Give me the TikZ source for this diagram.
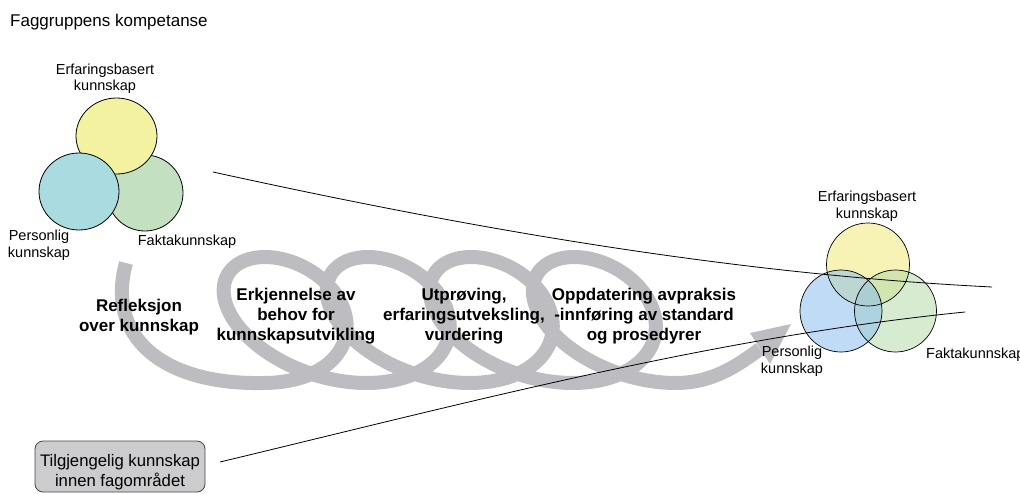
\documentclass[tikz,border=0pt]{standalone}
\usepackage{fontspec}
\setmainfont{Liberation Sans}
\definecolor{bandgray}{RGB}{189,189,193}
\definecolor{cyellow}{RGB}{243,242,160}
\definecolor{cblue}{RGB}{170,219,224}
\definecolor{cgreen}{RGB}{195,224,193}
\definecolor{tyellow}{RGB}{240,234,120}
\definecolor{tblue}{RGB}{140,190,238}
\definecolor{tgreen}{RGB}{180,218,170}
\definecolor{boxgray}{RGB}{204,204,206}
\definecolor{boxline}{RGB}{70,70,70}
\begin{document}
\begin{tikzpicture}[x=1pt,y=-1pt,
  band/.style={line width=14pt, draw=bandgray},
  ring/.style={draw=black, line width=0.8pt},
  tring/.style={fill opacity=0.55},
  lbl/.style={font=\fontsize{14.5}{16.5}\selectfont, inner sep=0pt, align=center},
  bld/.style={font=\fontsize{17}{20.3}\selectfont\bfseries, inner sep=0pt, align=center},
  boxtxt/.style={font=\fontsize{16.7}{20}\selectfont, inner sep=0pt, align=center},
  kbox/.style={draw=boxline, fill=boxgray, line width=0.8pt, rounded corners=8pt, minimum width=170pt, minimum height=51pt, inner sep=0pt},
  conn/.style={draw=black, line width=0.8pt}]
\useasboundingbox (0,0) rectangle (1020,493);

% title
\node[font=\fontsize{17}{20}\selectfont, anchor=base west, inner sep=0pt] (title) at (10,26) {Faggruppens kompetanse};

% spiral band
\draw[band] (126,263) .. controls (106,335) and (160,385) .. (263.5,383)
  -- plot[domain=0:25.1327, samples=400, variable=\t]
     ({238.5+16.4*\t+82*sin(\t r)+25*cos(\t r)}, {320+63*cos(\t r)})
  .. controls (712,383) and (737,366) .. (760,349);
\fill[bandgray] (750,333) -- (791,324) -- (770,364) -- cycle;

% left cluster
\draw[ring, fill=cgreen] (145,193) circle[x radius=38pt, y radius=38pt];
\draw[ring, fill=cyellow] (116.5,136) circle[x radius=40.5pt, y radius=38pt];
\draw[ring, fill=cblue] (79,191.5) circle[x radius=40pt, y radius=38.5pt];
\node[lbl] (lerf) at (105,78.6) {Erfaringsbasert\\kunnskap};
\node[lbl] (lper) at (39,245.3) {Personlig\\kunnskap};
\node[lbl, anchor=base] (lfak) at (187,245) {Faktakunnskap};

% right cluster
\path[tring, fill=tyellow] (868,264.5) circle[radius=41.5pt];
\path[tring, fill=tgreen] (895.5,311) circle[radius=41pt];
\path[tring, fill=tblue] (841,311) circle[radius=41pt];
\draw[draw=black, line width=0.7pt] (868,264.5) circle[radius=41.5pt];
\draw[draw=black, line width=0.7pt] (895.5,311) circle[radius=41pt];
\draw[draw=black, line width=0.7pt] (841,311) circle[radius=41pt];
\node[lbl] (rerf) at (867,206.3) {Erfaringsbasert\\kunnskap};
\node[lbl] (rper) at (792,361.3) {Personlig\\kunnskap};
\node[lbl, anchor=base west] (rfak) at (926,358) {Faktakunnskap};

% box
\node[kbox] (tkbox) at (120,466.5) {};
\node[boxtxt] (tk) at (120,471.8) {Tilgjengelig kunnskap\\innen fagområdet};

% funnel lines
\coordinate (u1) at (213,172);
\coordinate (u2) at (992,287);
\coordinate (l1) at (220,462);
\coordinate (l2) at (965,312);
\draw[conn] (u1) .. controls (473,229) and (732,274) .. (u2);
\draw[conn] (l1) .. controls (470,402) and (715,337) .. (l2);

% bold step texts
\node[bld] (refl) at (139,316.9) {Refleksjon\\over kunnskap};
\node[bld] (erkj) at (296,316) {Erkjennelse av\\behov for\\kunnskapsutvikling};
\node[bld] (utpr) at (464,316) {Utprøving,\\erfaringsutveksling,\\vurdering};
\node[bld] (oppd) at (644,316) {Oppdatering avpraksis\\-innføring av standard\\og prosedyrer};
\end{tikzpicture}
\end{document}
